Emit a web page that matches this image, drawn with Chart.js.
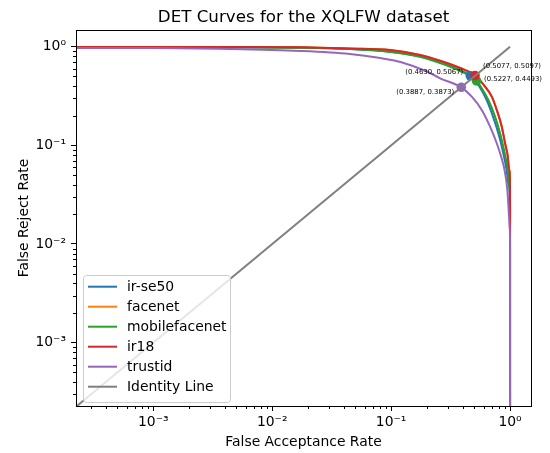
<!DOCTYPE html>
<html>
<head>
<meta charset="utf-8">
<script src="https://cdn.jsdelivr.net/npm/chart.js@4.4.1/dist/chart.umd.min.js"></script>
<style>
  html, body { margin: 0; padding: 0; background: #fff; }
</style>
</head>
<body>
<canvas id="c" width="550" height="453"></canvas>
<script>
'use strict';
// DET curves, XQLFW (log-log axes)

const models = ['ir-se50', 'facenet', 'mobilefacenet', 'ir18', 'trustid'];

const irse50FAR = [2.24e-4, 1e-3, 0.0044, 0.0171, 0.045, 0.098, 0.175, 0.258, 0.38, 0.463, 0.5486, 0.6346, 0.719, 0.797, 0.865, 0.935, 0.971, 0.9995, 1.0];
const irse50FRR = [0.99, 0.99, 0.988, 0.976, 0.947, 0.888, 0.795, 0.69, 0.58, 0.5067, 0.400, 0.2884, 0.1953, 0.1326, 0.0898, 0.0563, 0.0397, 0.0249, 1e-5];

const ir18FAR = [2.24e-4, 1e-3, 0.0044, 0.0171, 0.045, 0.098, 0.175, 0.258, 0.38, 0.5077, 0.6163, 0.702, 0.773, 0.852, 0.908, 0.953, 0.987, 0.9995, 1.0];
const ir18FRR = [0.995, 0.995, 0.993, 0.985, 0.96, 0.926, 0.824, 0.72, 0.608, 0.5097, 0.393, 0.3113, 0.2284, 0.1547, 0.1050, 0.0799, 0.0563, 0.0353, 1e-5];

// facenet sits exactly under ir18 in the picture
const facenetFAR = [2.24e-4, 1e-3, 0.0044, 0.0171, 0.045, 0.098, 0.175, 0.258, 0.38, 0.5077, 0.6163, 0.702, 0.773, 0.852, 0.908, 0.953, 0.987, 0.9995, 1.0];
const facenetFRR = [0.995, 0.995, 0.993, 0.985, 0.96, 0.926, 0.824, 0.72, 0.608, 0.5097, 0.393, 0.3113, 0.2284, 0.1547, 0.1050, 0.0799, 0.0563, 0.0353, 1e-5];

const mobileFAR = [2.24e-4, 1e-3, 0.0044, 0.0171, 0.045, 0.098, 0.175, 0.258, 0.38, 0.5227, 0.578, 0.657, 0.748, 0.824, 0.890, 0.957, 0.981, 0.9995, 1.0];
const mobileFRR = [0.99, 0.99, 0.988, 0.975, 0.945, 0.884, 0.79, 0.684, 0.567, 0.4493, 0.379, 0.2884, 0.1953, 0.1326, 0.0898, 0.0563, 0.0416, 0.028, 1e-5];

const trustidFAR = [2.24e-4, 1e-3, 0.0044, 0.0171, 0.045, 0.081, 0.12, 0.2, 0.258, 0.3887, 0.4764, 0.578, 0.679, 0.773, 0.848, 0.899, 0.949, 0.981, 0.994, 0.9995, 1.0];
const trustidFRR = [0.97, 0.97, 0.948, 0.905, 0.843, 0.768, 0.70, 0.56, 0.478, 0.3873, 0.3113, 0.2284, 0.1547, 0.1050, 0.0745, 0.0563, 0.0353, 0.0188, 0.014, 0.0103, 1e-5];

// equal error points (scatter markers + labels)
const eerModels = ['ir-se50', 'mobilefacenet', 'ir18', 'trustid'];
const eerFAR = [0.4630, 0.5227, 0.5077, 0.3887];
const eerFRR = [0.5067, 0.4493, 0.5097, 0.3873];

const identityX = [1e-4, 1];
const identityY = [1e-4, 1];

const xTickVals = [1e-3, 1e-2, 1e-1, 1];
const xTickLabels = ['10⁻³', '10⁻²', '10⁻¹', '10⁰'];
const yTickVals = [1e-3, 1e-2, 1e-1, 1];
const yTickLabels = ['10⁻³', '10⁻²', '10⁻¹', '10⁰'];

const FONT = '"DejaVu Sans", sans-serif';
const colors = { 'ir-se50': '#1f77b4', 'facenet': '#ff7f0e', 'mobilefacenet': '#2ca02c', 'ir18': '#d62728', 'trustid': '#9467bd' };
const curveFAR = [irse50FAR, facenetFAR, mobileFAR, ir18FAR, trustidFAR];
const curveFRR = [irse50FRR, facenetFRR, mobileFRR, ir18FRR, trustidFRR];
// label offsets [dx, dy, align] per eer point
const labelOff = [[-7, -3.5, 'right'], [7.5, -2, 'left'], [8, -9.5, 'left'], [-7, 5, 'right']];

const pts = (xs, ys) => xs.map((x, i) => ({ x, y: ys[i] }));

const datasets = models.map((m, i) => ({
  label: m,
  data: pts(curveFAR[i], curveFRR[i]),
  borderColor: colors[m],
  borderWidth: 2,
  pointRadius: 0,
  cubicInterpolationMode: 'monotone',
  fill: false,
  order: 10 - i,           // matplotlib: later series on top
}));
datasets.push({
  label: 'eer',
  data: pts(eerFAR, eerFRR),
  showLine: false,
  pointRadius: 4.8,
  pointBorderWidth: 0,
  pointBackgroundColor: eerModels.map(m => colors[m]),
  order: 2,
});
datasets.push({
  label: 'Identity Line',
  data: pts(identityX, identityY),
  borderColor: '#7f7f7f',
  borderWidth: 2,
  pointRadius: 0,
  order: 1,
});

function minorVals(min, max) {
  const out = [];
  for (let e = -5; e <= 1; e++) for (let k = 2; k <= 9; k++) {
    const v = k * Math.pow(10, e);
    if (v > min && v < max) out.push(v);
  }
  return out;
}

const decor = {
  id: 'decor',
  afterDraw(chart) {
    const { ctx, chartArea: a, scales: { x, y } } = chart;
    ctx.save();
    // frame
    ctx.strokeStyle = '#000'; ctx.lineWidth = 1;
    ctx.strokeRect(Math.round(a.left) + 0.5, Math.round(a.top) + 0.5, Math.round(a.right - a.left), Math.round(a.bottom - a.top));
    // minor ticks
    ctx.beginPath();
    minorVals(x.min, x.max).forEach(v => { const p = Math.round(x.getPixelForValue(v)) + 0.5; ctx.moveTo(p, a.bottom); ctx.lineTo(p, a.bottom + 3); });
    minorVals(y.min, y.max).forEach(v => { const p = Math.round(y.getPixelForValue(v)) + 0.5; ctx.moveTo(a.left, p); ctx.lineTo(a.left - 3, p); });
    ctx.stroke();

    // eer labels
    ctx.fillStyle = '#000';
    ctx.font = '6.9px ' + FONT;
    ctx.textBaseline = 'middle';
    eerFAR.forEach((fx, i) => {
      const [dx, dy, al] = labelOff[i];
      ctx.textAlign = al;
      ctx.fillText(`(${fx.toFixed(4)}, ${eerFRR[i].toFixed(4)})`, x.getPixelForValue(fx) + dx, y.getPixelForValue(eerFRR[i]) + dy);
    });

    // legend
    const lx = 83, ly = 275, lw = 147, lh = 127;
    ctx.beginPath();
    ctx.roundRect(lx + 0.5, ly + 0.5, lw, lh, 3);
    ctx.fillStyle = 'rgba(255,255,255,0.8)';
    ctx.fill();
    ctx.strokeStyle = '#cccccc';
    ctx.stroke();
    const items = models.map(m => [m, colors[m]]).concat([['Identity Line', '#7f7f7f']]);
    ctx.font = '13.9px ' + FONT;
    ctx.textAlign = 'left';
    ctx.textBaseline = 'middle';
    items.forEach(([name, col], i) => {
      const yy = 286.7 + i * 20;
      ctx.strokeStyle = col; ctx.lineWidth = 2;
      ctx.beginPath(); ctx.moveTo(88, yy); ctx.lineTo(117, yy); ctx.stroke();
      ctx.fillStyle = '#000';
      ctx.fillText(name, 127, yy + 1);
    });

    // title and axis labels
    ctx.fillStyle = '#000';
    ctx.textAlign = 'center';
    ctx.textBaseline = 'alphabetic';
    ctx.font = '16.7px ' + FONT;
    ctx.fillText('DET Curves for the XQLFW dataset', (a.left + a.right) / 2, 22);
    ctx.font = '13.9px ' + FONT;
    ctx.fillText('False Acceptance Rate', (a.left + a.right) / 2, 446);
    ctx.translate(28, (a.top + a.bottom) / 2);
    ctx.rotate(-Math.PI / 2);
    ctx.fillText('False Reject Rate', 0, 0);
    ctx.restore();
  },
};

new Chart(document.getElementById('c'), {
  type: 'line',
  data: { datasets },
  plugins: [decor],
  options: {
    responsive: false,
    animation: false,
    events: [],
    layout: { padding: { top: 30, right: 19, left: 0, bottom: 0 } },
    plugins: { legend: { display: false }, tooltip: { enabled: false } },
    scales: {
      x: {
        type: 'logarithmic', min: 2.24e-4, max: 1.5,
        afterFit: s => { s.height = 47; },
        afterBuildTicks: s => { s.ticks = xTickVals.map(v => ({ value: v })); },
        ticks: { callback: (v, i) => xTickLabels[i], color: '#000', font: { family: FONT, size: 13.9 }, padding: 3, maxRotation: 0, autoSkip: false },
        grid: { drawOnChartArea: false, tickLength: 5, tickColor: '#000' },
        border: { display: false },
      },
      y: {
        type: 'logarithmic', min: 2.28e-4, max: 1.476,
        afterFit: s => { s.width = 76; },
        afterBuildTicks: s => { s.ticks = yTickVals.map(v => ({ value: v })); },
        ticks: { callback: (v, i) => yTickLabels[i], color: '#000', font: { family: FONT, size: 13.9 }, padding: 5, autoSkip: false },
        grid: { drawOnChartArea: false, tickLength: 5, tickColor: '#000' },
        border: { display: false },
      },
    },
  },
});
</script>
</body>
</html>
